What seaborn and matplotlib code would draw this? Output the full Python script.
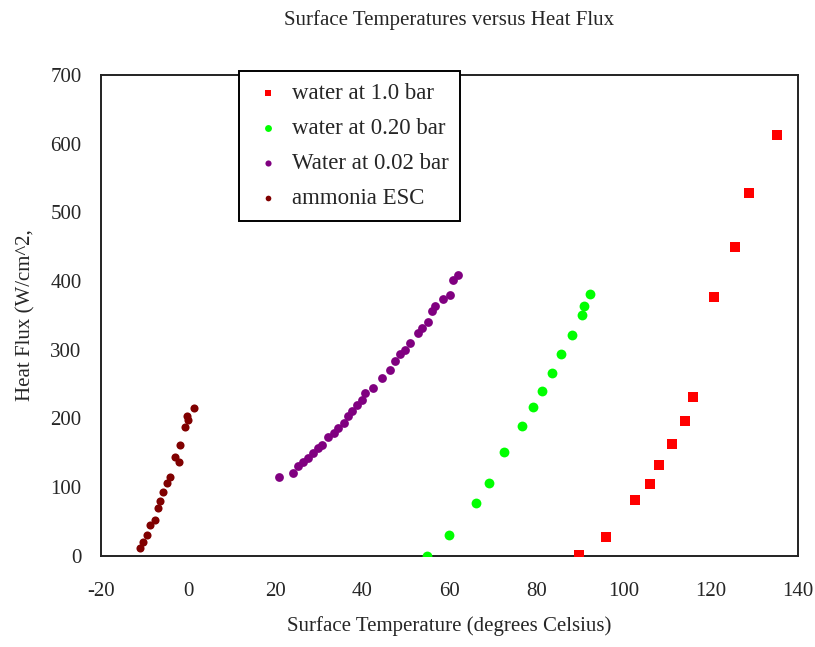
import matplotlib
matplotlib.use("Agg")
import matplotlib.pyplot as plt
import seaborn as sns
import pandas as pd

# --- data -------------------------------------------------------------
water_1bar_T = [89.7, 95.9, 102.6, 106.0, 108.1, 111.1, 114.2, 115.9,
                120.7, 125.5, 128.8, 135.2]
water_1bar_q = [0.4, 27, 81, 104, 132, 163, 196, 231,
                377, 449, 528, 613]

water_020bar_T = [54.8, 59.9, 66.1, 69.1, 72.5, 76.6, 79.2, 81.3,
                  83.6, 85.6, 88.2, 90.4, 91.0, 92.4]
water_020bar_q = [0, 30, 77, 106, 151, 189, 216, 240,
                  266, 294, 321, 351, 363, 381]

water_002bar_T = [20.9, 24.2, 25.3, 26.5, 27.6, 28.8, 29.9, 30.7, 32.2,
                  33.4, 34.5, 35.7, 36.8, 37.6, 38.7, 39.9, 40.6, 42.5,
                  44.5, 46.4, 47.5, 48.7, 49.8, 51.0, 52.9, 53.7, 55.2,
                  56.0, 56.7, 58.6, 60.2, 60.9, 62.1]
water_002bar_q = [115, 120, 130, 137, 142, 149, 157, 161, 173,
                  178, 186, 193, 203, 210, 220, 227, 237, 244,
                  259, 271, 283, 293, 300, 310, 324, 332, 341,
                  356, 363, 374, 380, 402, 409]

ammonia_T = [-11.0, -10.3, -9.5, -8.7, -7.6, -6.8, -6.4, -5.7, -4.9,
             -4.2, -2.2, -3.0, -1.9, -0.7, 0.05, -0.3, 1.4]
ammonia_q = [11, 20, 30, 45, 52, 69, 79, 93, 106,
             115, 137, 144, 161, 188, 198, 203, 215]

series_names = ["water at 1.0 bar", "water at 0.20 bar",
                "Water at 0.02 bar", "ammonia ESC"]
series_colors = ["#ff0000", "#00ff00", "#800080", "#800000"]
x_ticks = [-20, 0, 20, 40, 60, 80, 100, 120, 140]
y_ticks = [0, 100, 200, 300, 400, 500, 600, 700]

# --- frame ------------------------------------------------------------
frames = []
for name, xs, ys in zip(series_names,
                        [water_1bar_T, water_020bar_T, water_002bar_T, ammonia_T],
                        [water_1bar_q, water_020bar_q, water_002bar_q, ammonia_q]):
    frames.append(pd.DataFrame({"T": xs, "q": ys, "series": name}))
df = pd.concat(frames, ignore_index=True)

sns.set_style("white")
plt.rcParams["font.family"] = ["Liberation Serif", "DejaVu Serif"]
plt.rcParams["axes.unicode_minus"] = False

fig = plt.figure(figsize=(8.15, 6.47), dpi=100)
ax = fig.add_axes([101 / 815, 1 - 555.7 / 647, 696.7 / 815, 480.7 / 647])

markers = ["s", "o", "o", "o"]
sizes = [44, 50, 40, 34]
for name, color, mk, sz in zip(series_names, series_colors, markers, sizes):
    sub = df[df["series"] == name]
    sns.scatterplot(data=sub, x="T", y="q", color=color, marker=mk, s=sz,
                    linewidth=0, label=name, ax=ax, zorder=3)

ax.set_xlim(-20, 140)
ax.set_ylim(0, 700)
ax.set_xticks(x_ticks)
ax.set_yticks(y_ticks)
ax.set_xticklabels([str(v) for v in x_ticks])
ax.set_yticklabels([str(v) for v in y_ticks])
ax.tick_params(axis="both", direction="out", length=5, width=1.2,
               color="black", labelsize=15)
ax.tick_params(axis="x", pad=14)
ax.tick_params(axis="y", pad=9)
for sp in ax.spines.values():
    sp.set_color("#222222")
    sp.set_linewidth(1.4)

ax.set_xlabel("Surface Temperature (degrees Celsius)", fontsize=15, labelpad=11)
ax.set_ylabel("Heat Flux (W/cm^2,", fontsize=15, labelpad=11)
fig.text(449 / 815, 1 - 20 / 647, "Surface Temperatures versus Heat Flux",
         ha="center", va="center", fontsize=15)

leg = ax.legend(loc="upper left", bbox_to_anchor=(0.198, 1.008),
                borderaxespad=0, frameon=True, fancybox=False,
                fontsize=16.5, markerscale=0.7, handletextpad=0.3,
                labelspacing=0.62, borderpad=0.5, handlelength=1.5)
leg.get_frame().set_edgecolor("black")
leg.get_frame().set_linewidth(1.4)
leg.get_frame().set_alpha(1)
leg.set_zorder(5)

fig.savefig("out.png", dpi=100)
